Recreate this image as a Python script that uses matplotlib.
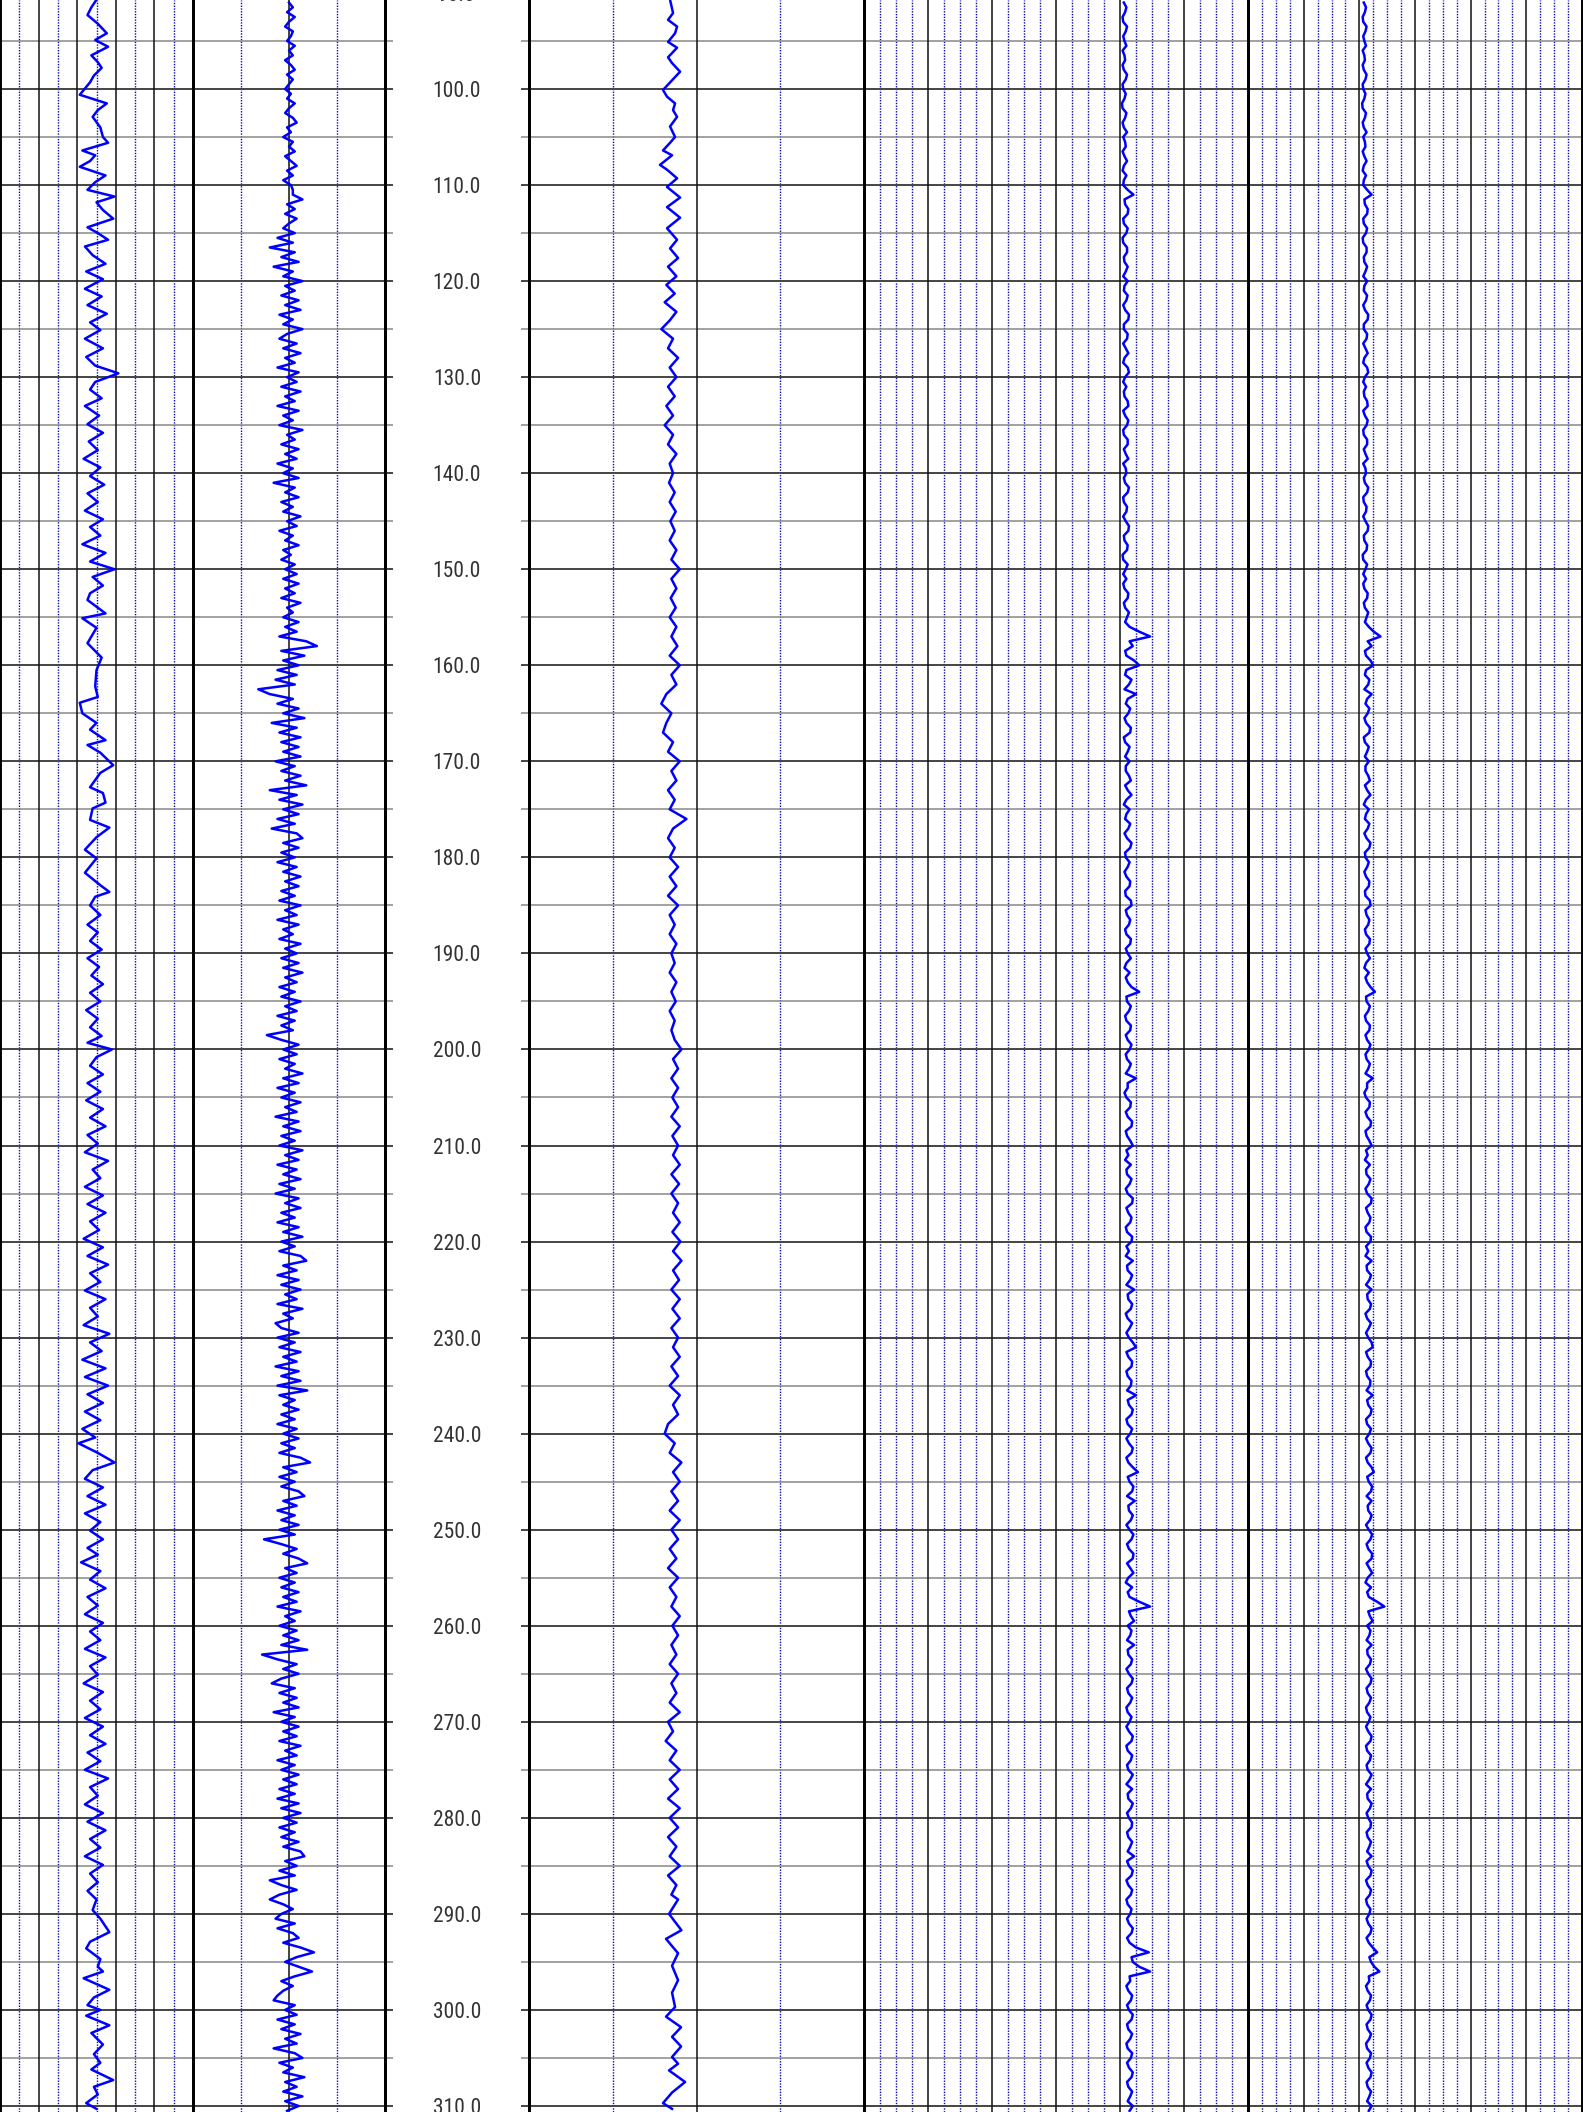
import numpy as np
import matplotlib
matplotlib.use("Agg")
import matplotlib.pyplot as plt
import matplotlib.font_manager as fm

# ---------------- data ----------------
# Track 1 (GR-like, scale 0-150): turning points
T1_DEPTH = [90.7, 91.5, 92.3, 93.2, 94.2, 94.9, 95.6, 96.5, 97.2, 97.8, 98.6, 99.3, 100.6, 101.5, 102.2, 102.9,
            104.0, 105.0, 105.6, 106.4, 106.9, 107.5, 108.1, 109.0, 109.7, 110.5, 111.2, 111.8, 112.6, 113.5,
            114.4, 115.0, 115.7, 116.4, 117.3, 118.2, 119.0, 119.8, 120.8, 121.6, 122.5, 123.4, 124.3, 125.1,
            126.0, 127.0, 127.9, 128.8, 129.6, 130.5, 131.3, 132.2, 133.0, 134.0, 134.9, 135.8, 136.7, 137.6,
            138.5, 139.4, 140.3, 141.2, 142.1, 143.0, 143.9, 144.8, 145.6, 146.5, 147.4, 148.3, 149.2, 150.0,
            150.8, 151.7, 152.5, 153.2, 154.6, 155.1, 156.1, 157.7, 159.2, 160.5, 162.2, 163.3, 163.9, 165.0,
            166.0, 166.7, 167.8, 168.3, 169.1, 170.4, 171.2, 172.7, 173.3, 174.3, 174.9, 176.1, 176.9, 177.9,
            179.2, 180.1, 181.6, 182.9, 183.6, 184.1, 185.0, 186.0, 187.0, 187.8, 188.7, 189.6, 190.5, 191.4,
            192.3, 193.2, 194.1, 195.0, 195.9, 196.8, 197.7, 198.6, 199.3, 200.0, 200.8, 201.7, 202.6, 203.5,
            204.4, 205.3, 206.2, 207.1, 208.0, 208.9, 209.8, 210.7, 211.6, 212.5, 213.4, 214.3, 215.2, 216.1,
            217.0, 217.9, 218.8, 219.7, 220.6, 221.5, 222.4, 223.3, 224.2, 225.1, 226.0, 226.9, 227.8, 228.7,
            229.6, 230.5, 231.4, 232.3, 233.2, 234.1, 235.0, 235.9, 236.8, 237.7, 238.6, 239.5, 240.4, 241.0,
            242.0, 243.0, 243.8, 244.7, 245.6, 246.5, 247.4, 248.3, 249.2, 250.1, 251.0, 251.9, 252.6, 253.4,
            254.3, 255.2, 256.1, 257.0, 257.9, 258.8, 259.7, 260.6, 261.5, 262.4, 263.3, 264.2, 265.1, 266.0,
            266.9, 267.8, 268.7, 269.6, 270.5, 271.4, 272.3, 273.2, 274.1, 275.0, 275.9, 276.8, 277.7, 278.6,
            279.5, 280.4, 281.3, 282.2, 283.1, 284.0, 284.9, 285.8, 286.7, 287.6, 288.5, 289.6, 290.5, 291.9,
            292.9, 293.6, 294.7, 295.5, 296.0, 296.7, 297.9, 298.7, 299.5, 300.0, 300.6, 301.6, 302.4, 303.6,
            304.6, 305.5, 306.2, 307.3, 308.0, 308.8, 309.7, 310.3]
T1_VALUE = [75, 71, 68, 76, 83, 74, 84, 71, 76, 79, 73, 70, 62, 83, 76, 72,
            78, 80, 84, 64, 74, 70, 62, 82, 74, 68, 89, 75, 80, 88,
            68, 76, 84, 66, 72, 82, 67, 80, 66, 79, 68, 83, 70, 78,
            66, 80, 67, 74, 92, 74, 70, 79, 66, 77, 68, 80, 69, 76,
            65, 78, 70, 81, 68, 76, 66, 80, 70, 78, 64, 82, 70, 89,
            72, 80, 70, 68, 82, 64, 75, 68, 79, 75, 74, 76, 62, 64,
            75, 70, 82, 68, 78, 88, 78, 70, 80, 82, 72, 70, 85, 75,
            66, 75, 66, 78, 85, 74, 70, 78, 68, 76, 70, 79, 68, 77,
            71, 80, 70, 78, 67, 76, 70, 79, 68, 87, 75, 70, 80, 68,
            78, 67, 80, 70, 82, 68, 76, 66, 84, 72, 78, 66, 80, 68,
            82, 70, 77, 65, 80, 68, 84, 70, 78, 66, 82, 70, 76, 65,
            85, 70, 79, 64, 82, 66, 84, 68, 80, 66, 78, 64, 74, 61,
            76, 89, 72, 66, 80, 68, 82, 66, 78, 70, 80, 68, 76, 63,
            78, 70, 82, 68, 76, 66, 80, 70, 78, 66, 82, 70, 76, 65,
            80, 70, 78, 66, 80, 70, 82, 68, 78, 66, 84, 70, 76, 66,
            80, 68, 82, 70, 78, 66, 80, 70, 76, 68, 75, 72, 78, 85,
            70, 67, 78, 76, 80, 65, 85, 73, 68, 78, 67, 85, 71, 80,
            73, 78, 71, 88, 73, 76, 67, 75]

# Track 2 (scale -50..50), sampled every 0.5 m from 91.0 m
T2_START, T2_STEP = 91.0, 0.5
T2_VALUE = [
    0, 2, -1, 3, 0, -2, 2, 1, -1, 3, 0, 2, -2, 1, 3, -1, 2, 0, -2, 1,
    -1, 3, 0, -2, 2, 4, -1, 1, -3, 2, 0, 3, -2, 1, 4, -1, 2, -3, 1, 2,
    2, 7, -1, 3, -2, 4, 0, -3, 3, -6, 2, -10, 3, -4, 5, -8, 2, -3, 7, -2,
    3, -4, 5, -2, 6, -5, 2, -3, 7, -1, -5, 4, -3, 6, -2, 3, -6, 5, -1, 4,
    -4, 6, -2, 3, -6, 5, -3, 2, -5, 7, -1, 3, -4, 5, -2, 4, -6, 2, -3, 5,
    -8, 3, -2, 5, -4, 2, -3, 6, -1, 4, -5, 2, -2, 5, -3, 1, -4, 3, -2, 4,
    -3, 5, -2, 3, -4, 6, -1, 2, -3, 5, -2, 4, -5, 9, 14.5, -4, 8, -3, 5, -6,
    4, -7, 3, -16, -10, 2, -6, 5, -3, 8, -9, 4, -5, 6, -4, 5, -3, 6, -7, 3,
    -4, 6, -2, 9, -10, 4, -5, 7, -3, 5, -6, 3, -9, 4, 7, -3, 5, -4, 3, -6,
    4, -3, 6, -2, 5, -4, 3, -5, 6, -2, 4, -6, 5, -3, 2, -5, 6, -2, 4, -4,
    5, -3, 7, -2, 4, -5, 3, -4, 6, -2, 4, -6, 3, -4, 2, -11.5, -4, 5, -3, 4,
    -5, 3, -2, 7, -3, 5, -6, 3, -4, 6, -2, 4, -7, 5, -3, 6, -4, 3, -5, 7,
    -2, 5, -6, 4, -3, 6, -5, 3, -7, 5, -2, 6, -4, 3, -6, 5, -3, 7, -4, 3,
    -5, 6, 9, -3, 4, -6, 5, -4, 6, -2, 4, -6, 7, -3, 2, -7, -4, 5, -6, 3,
    -5, 6, -3, 4, -7, 5, -4, 6, -6, 9.5, -5, 3, -3, 5, -4, 3, -6, 4, -3, 5,
    -4, 3, -5, 6, 11, -3, 4, -5, 3, -4, 5, 8, -3, 4, -6, 3, -4, 5, -5, 3,
    -13, -4, 4, -3, 5, 9.5, -2, 4, -5, 3, -4, 5, -3, 4, -6, 6, -2, 3, -5, 4,
    -3, 5, -4, 9.5, -14, -6, 4, -3, 5, -4, -9, 3, -5, 4, -3, 5, -8, 3, -4, 5,
    -3, 4, -5, 6, -2, 4, -6, 3, -4, 5, -3, 4, -5, 3, -6, 5, -4, 6, -3, 4,
    -5, 3, -4, 5, -3, 6, 8, -2, 4, -5, 3, -10, -4, 4, -5, -10, -3, 2, -4, -7,
    3, -6, 2, 5, -3, 6, 13, 4, -2, 5, 12, 3, -4, 2, -3, -6, -8, 3, -2, 4,
    -6, 3, -4, 6, -2, 4, -8, 3, 7, -5, 2, -3, 8, -2, 4, -3, 7, -2, 5, -1]

# Track 3 (scale 0-100): turning points
T3_DEPTH = [90.7, 92.1, 92.8, 93.5, 94.2, 95.1, 95.7, 96.7, 97.3, 98.2, 99.1, 100.1, 100.8, 101.5, 102.2, 102.9,
            103.9, 105.0, 105.6, 106.4, 106.9, 107.9, 108.4, 109.3, 110.2, 111.3, 112.3, 113.4, 114.5, 115.7,
            116.6, 117.6, 118.5, 119.5, 120.4, 121.3, 122.2, 123.2, 124.1, 125.0, 126.0, 127.0, 128.0, 129.0,
            130.0, 131.0, 132.0, 133.0, 134.0, 135.0, 136.0, 137.0, 138.0, 139.0, 140.0, 141.0, 142.0, 143.0,
            144.0, 145.0, 146.0, 147.0, 148.0, 149.0, 150.0, 151.0, 152.0, 153.0, 154.0, 155.0, 156.0, 157.0,
            158.0, 159.0, 160.0, 161.0, 162.0, 163.0, 164.0, 165.0, 166.0, 167.0, 168.0, 169.0, 170.0, 171.0,
            172.0, 173.0, 174.0, 175.0, 176.0, 177.0, 178.0, 179.0, 180.0, 181.0, 182.0, 183.0, 184.0, 185.0,
            186.0, 187.0, 188.0, 189.0, 190.0, 191.0, 192.0, 193.0, 194.0, 195.0, 196.0, 197.0, 198.0, 199.0,
            200.0, 201.0, 202.0, 203.0, 204.0, 205.0, 206.0, 207.0, 208.0, 209.0, 210.0, 211.0, 212.0, 213.0,
            214.0, 215.0, 216.0, 217.0, 218.0, 219.0, 220.0, 221.0, 222.0, 223.0, 224.0, 225.0, 226.0, 227.0,
            228.0, 229.0, 230.0, 231.0, 232.0, 233.0, 234.0, 235.0, 236.0, 237.0, 238.0, 239.0, 240.0, 241.0,
            242.0, 243.0, 244.0, 245.0, 246.0, 247.0, 248.0, 249.0, 250.0, 251.0, 252.0, 253.0, 254.0, 255.0,
            256.0, 257.0, 258.0, 259.0, 260.0, 261.0, 262.0, 263.0, 264.0, 265.0, 266.0, 267.0, 268.0, 269.0,
            270.0, 271.0, 272.0, 273.0, 274.0, 275.0, 276.0, 277.0, 278.0, 279.0, 280.0, 281.0, 282.0, 283.0,
            284.0, 285.0, 286.0, 287.0, 288.0, 288.5, 290.0, 291.7, 292.6, 294.1, 295.4, 296.9, 298.2, 299.7,
            300.7, 301.8, 302.8, 303.8, 304.9, 305.6, 306.3, 307.5, 308.6, 309.7, 310.3]
T3_VALUE = [42.1, 43, 41.5, 44.2, 43.6, 41.5, 44.2, 41.5, 42.7, 45.1, 42.7, 40, 41.2, 43.6, 43, 44.2,
            42.1, 43.6, 42.1, 40, 42.7, 39.1, 41.2, 44.2, 41.2, 45.1, 41.2, 45.1, 41.2, 44.2,
            42.1, 44.5, 41.5, 44, 41, 43.5, 40.5, 44, 42, 39.5, 43, 41.5, 44.5, 42,
            44, 41.5, 43.5, 41, 43, 40.5, 43, 41.5, 44, 42, 43, 41.8, 43.5, 42,
            43.8, 42.2, 43.5, 42, 44, 42.5, 45, 42.5, 44, 42.3, 43.8, 42, 44, 42.5,
            44.3, 42, 45, 42.5, 44, 41, 39.5, 42.5, 41, 40, 43, 41.5, 45, 42.5,
            44, 41.5, 43.5, 42, 47, 43, 41.5, 43.5, 42, 44.5, 42, 44, 41.5, 44.5,
            42, 43.5, 42, 44, 42.5, 43.5, 42, 44, 42.5, 43.8, 42, 43.5, 42.5, 43.5,
            45.5, 43, 44.5, 42.5, 44.5, 42.8, 44.5, 42.5, 45, 42.8, 44.5, 43, 45, 42.5,
            44.8, 42.5, 44.5, 43, 45, 42.8, 45.2, 43, 45.5, 43, 44.8, 42.5, 45, 42.8,
            45, 42.5, 44.5, 43, 45, 42.5, 44.5, 42, 45, 43, 44.5, 41.5, 40.5, 43.5,
            42, 45.5, 43, 45, 42.5, 44.5, 42, 45, 42.5, 44.5, 42, 44, 41.5, 44.5,
            42, 44, 42.5, 45, 42.8, 44.5, 42.5, 44, 42, 44.5, 42.5, 44, 42, 45,
            41.5, 43, 40.8, 44, 42, 45, 42, 44.5, 41.5, 45, 42, 44.5, 41.5, 44,
            42, 45, 41.5, 44, 42.5, 44.5, 41.8, 45.5, 40.9, 44.5, 42.7, 44.5, 42.7, 43.6,
            40.9, 45.4, 42.7, 45.4, 42.7, 44.5, 41.8, 46.6, 42.7, 40, 42.7]

# Tracks 4 and 5 (scale 0-6), sampled every 0.5 m from 91 m
T45_START, T45_STEP = 91.0, 0.5
T4_VALUE = [
    4.06, 4.10, 4.08, 4.04, 4.05, 4.11, 4.09, 4.05, 4.07, 4.10, 4.04, 4.07, 4.08, 4.04, 4.06, 4.11, 4.09, 4.04, 4.05, 4.09,
    4.07, 4.03, 4.04, 4.10, 4.08, 4.04, 4.06, 4.11, 4.05, 4.08, 4.09, 4.04, 4.07, 4.11, 4.06, 4.04, 4.10, 4.06, 4.05, 4.12,
    4.21, 4.07, 4.08, 4.13, 4.12, 4.05, 4.06, 4.12, 4.10, 4.04, 4.05, 4.11, 4.11, 4.06, 4.07, 4.12, 4.09, 4.05, 4.12, 4.07,
    4.06, 4.12, 4.10, 4.05, 4.08, 4.14, 4.13, 4.06, 4.06, 4.12, 4.11, 4.05, 4.09, 4.13, 4.07, 4.05, 4.12, 4.14, 4.08, 4.05,
    4.10, 4.06, 4.07, 4.12, 4.13, 4.05, 4.08, 4.13, 4.11, 4.05, 4.06, 4.12, 4.12, 4.06, 4.09, 4.13, 4.05, 4.09, 4.10, 4.06,
    4.08, 4.14, 4.12, 4.05, 4.06, 4.11, 4.10, 4.05, 4.09, 4.14, 4.13, 4.06, 4.07, 4.12, 4.11, 4.04, 4.05, 4.12, 4.09, 4.05,
    4.10, 4.05, 4.07, 4.13, 4.12, 4.06, 4.08, 4.14, 4.11, 4.08, 4.15, 4.30, 4.47, 4.15, 4.20, 4.08, 4.10, 4.22, 4.30, 4.10,
    4.08, 4.18, 4.14, 4.07, 4.25, 4.12, 4.09, 4.16, 4.13, 4.07, 4.10, 4.17, 4.16, 4.06, 4.08, 4.15, 4.12, 4.08, 4.15, 4.09,
    4.09, 4.14, 4.17, 4.08, 4.12, 4.18, 4.10, 4.06, 4.15, 4.10, 4.08, 4.16, 4.13, 4.07, 4.11, 4.18, 4.16, 4.08, 4.09, 4.15,
    4.12, 4.07, 4.10, 4.16, 4.15, 4.08, 4.09, 4.17, 4.18, 4.09, 4.11, 4.16, 4.14, 4.08, 4.10, 4.17, 4.16, 4.09, 4.12, 4.17,
    4.10, 4.07, 4.15, 4.09, 4.12, 4.18, 4.30, 4.10, 4.11, 4.17, 4.14, 4.08, 4.10, 4.17, 4.16, 4.09, 4.12, 4.18, 4.15, 4.09,
    4.11, 4.17, 4.14, 4.09, 4.25, 4.12, 4.12, 4.07, 4.10, 4.17, 4.16, 4.09, 4.12, 4.19, 4.18, 4.09, 4.11, 4.16, 4.20, 4.10,
    4.13, 4.08, 4.17, 4.10, 4.11, 4.18, 4.15, 4.09, 4.12, 4.20, 4.19, 4.10, 4.13, 4.18, 4.16, 4.09, 4.11, 4.19, 4.18, 4.10,
    4.14, 4.09, 4.20, 4.11, 4.12, 4.19, 4.16, 4.10, 4.22, 4.12, 4.13, 4.19, 4.17, 4.09, 4.12, 4.19, 4.15, 4.10, 4.14, 4.20,
    4.25, 4.10, 4.13, 4.19, 4.18, 4.10, 4.12, 4.18, 4.17, 4.11, 4.25, 4.12, 4.14, 4.20, 4.18, 4.10, 4.12, 4.19, 4.16, 4.10,
    4.14, 4.20, 4.18, 4.10, 4.13, 4.20, 4.28, 4.12, 4.15, 4.21, 4.19, 4.11, 4.23, 4.13, 4.14, 4.20, 4.17, 4.10, 4.15, 4.21,
    4.18, 4.11, 4.14, 4.21, 4.20, 4.11, 4.16, 4.21, 4.13, 4.09, 4.19, 4.12, 4.15, 4.30, 4.47, 4.14, 4.17, 4.22, 4.12, 4.18,
    4.16, 4.11, 4.22, 4.12, 4.13, 4.19, 4.17, 4.10, 4.14, 4.20, 4.18, 4.11, 4.13, 4.19, 4.16, 4.10, 4.12, 4.18, 4.15, 4.10,
    4.14, 4.20, 4.18, 4.10, 4.12, 4.19, 4.17, 4.11, 4.13, 4.20, 4.16, 4.10, 4.19, 4.12, 4.13, 4.20, 4.17, 4.11, 4.14, 4.19,
    4.18, 4.11, 4.13, 4.19, 4.16, 4.12, 4.22, 4.11, 4.14, 4.20, 4.18, 4.10, 4.13, 4.19, 4.17, 4.10, 4.12, 4.18, 4.16, 4.11,
    4.14, 4.20, 4.18, 4.11, 4.15, 4.25, 4.45, 4.18, 4.20, 4.30, 4.47, 4.15, 4.16, 4.10, 4.13, 4.19, 4.17, 4.11, 4.14, 4.20,
    4.18, 4.11, 4.13, 4.19, 4.16, 4.10, 4.12, 4.19, 4.17, 4.11, 4.14, 4.20, 4.18, 4.11, 4.13, 4.19, 4.16, 4.12, 4.20, 4.15]
T5_VALUE = [
    2.08, 2.12, 2.10, 2.06, 2.07, 2.13, 2.11, 2.07, 2.09, 2.12, 2.06, 2.09, 2.10, 2.06, 2.08, 2.13, 2.11, 2.06, 2.07, 2.11,
    2.09, 2.05, 2.06, 2.12, 2.10, 2.06, 2.08, 2.13, 2.07, 2.10, 2.11, 2.06, 2.09, 2.13, 2.08, 2.06, 2.12, 2.08, 2.07, 2.14,
    2.22, 2.09, 2.10, 2.15, 2.14, 2.07, 2.08, 2.14, 2.12, 2.06, 2.07, 2.13, 2.13, 2.08, 2.09, 2.14, 2.11, 2.07, 2.14, 2.09,
    2.08, 2.14, 2.12, 2.07, 2.10, 2.16, 2.15, 2.08, 2.08, 2.14, 2.13, 2.07, 2.11, 2.15, 2.09, 2.07, 2.14, 2.16, 2.10, 2.07,
    2.12, 2.08, 2.09, 2.14, 2.15, 2.07, 2.10, 2.15, 2.13, 2.07, 2.08, 2.14, 2.14, 2.08, 2.11, 2.15, 2.07, 2.11, 2.12, 2.08,
    2.10, 2.16, 2.14, 2.07, 2.08, 2.13, 2.12, 2.07, 2.11, 2.16, 2.15, 2.08, 2.09, 2.14, 2.13, 2.06, 2.07, 2.14, 2.11, 2.07,
    2.12, 2.07, 2.09, 2.15, 2.14, 2.08, 2.10, 2.16, 2.13, 2.10, 2.17, 2.26, 2.38, 2.15, 2.22, 2.10, 2.12, 2.20, 2.25, 2.12,
    2.10, 2.18, 2.16, 2.09, 2.22, 2.14, 2.11, 2.18, 2.15, 2.09, 2.12, 2.19, 2.18, 2.08, 2.10, 2.17, 2.14, 2.10, 2.17, 2.11,
    2.11, 2.16, 2.19, 2.10, 2.14, 2.20, 2.12, 2.08, 2.17, 2.12, 2.10, 2.18, 2.15, 2.09, 2.13, 2.20, 2.18, 2.10, 2.11, 2.17,
    2.14, 2.09, 2.12, 2.18, 2.17, 2.10, 2.11, 2.19, 2.20, 2.11, 2.13, 2.18, 2.16, 2.10, 2.12, 2.19, 2.18, 2.11, 2.14, 2.19,
    2.12, 2.09, 2.17, 2.11, 2.14, 2.20, 2.28, 2.12, 2.13, 2.19, 2.16, 2.10, 2.12, 2.19, 2.18, 2.11, 2.14, 2.20, 2.17, 2.11,
    2.13, 2.19, 2.16, 2.11, 2.24, 2.14, 2.14, 2.09, 2.12, 2.19, 2.18, 2.11, 2.14, 2.21, 2.20, 2.11, 2.13, 2.18, 2.22, 2.12,
    2.15, 2.10, 2.19, 2.12, 2.13, 2.20, 2.17, 2.11, 2.14, 2.22, 2.21, 2.12, 2.15, 2.20, 2.18, 2.11, 2.13, 2.21, 2.20, 2.12,
    2.16, 2.11, 2.22, 2.13, 2.14, 2.21, 2.18, 2.12, 2.22, 2.14, 2.15, 2.21, 2.19, 2.11, 2.14, 2.21, 2.17, 2.12, 2.16, 2.22,
    2.24, 2.12, 2.15, 2.21, 2.20, 2.12, 2.14, 2.20, 2.19, 2.13, 2.24, 2.14, 2.16, 2.22, 2.20, 2.12, 2.14, 2.21, 2.18, 2.12,
    2.16, 2.22, 2.20, 2.12, 2.15, 2.22, 2.26, 2.14, 2.17, 2.23, 2.21, 2.13, 2.22, 2.15, 2.16, 2.22, 2.19, 2.12, 2.17, 2.23,
    2.20, 2.13, 2.16, 2.23, 2.22, 2.13, 2.18, 2.23, 2.15, 2.11, 2.21, 2.14, 2.17, 2.32, 2.45, 2.16, 2.19, 2.24, 2.14, 2.20,
    2.18, 2.13, 2.22, 2.14, 2.15, 2.21, 2.19, 2.12, 2.16, 2.22, 2.20, 2.13, 2.15, 2.21, 2.18, 2.12, 2.14, 2.20, 2.17, 2.12,
    2.16, 2.22, 2.20, 2.12, 2.14, 2.21, 2.19, 2.13, 2.15, 2.22, 2.18, 2.12, 2.21, 2.14, 2.15, 2.22, 2.19, 2.13, 2.16, 2.21,
    2.20, 2.13, 2.15, 2.21, 2.18, 2.14, 2.22, 2.13, 2.16, 2.22, 2.20, 2.12, 2.15, 2.21, 2.19, 2.12, 2.14, 2.20, 2.18, 2.13,
    2.16, 2.22, 2.20, 2.13, 2.17, 2.24, 2.32, 2.18, 2.21, 2.27, 2.36, 2.17, 2.18, 2.12, 2.15, 2.21, 2.19, 2.13, 2.16, 2.22,
    2.20, 2.13, 2.15, 2.21, 2.18, 2.12, 2.14, 2.21, 2.19, 2.13, 2.16, 2.22, 2.20, 2.13, 2.15, 2.21, 2.18, 2.14, 2.22, 2.17]

DEPTH_TOP, DEPTH_BOTTOM = 90.734, 310.625

# ---------------- layout / style ----------------
W, H = 1583, 2112
fig = plt.figure(figsize=(W / 100, H / 100), dpi=100)
fig.patch.set_facecolor("white")

TRACKS = {
    "t1": (0, 193), "t2": (193, 385), "depth": (385, 529),
    "t3": (529, 864), "t4": (864, 1248), "t5": (1248, 1582),
}
CURVE_COLOR = "#0000ff"
CURVE_LW = 1.8
MINOR_V = dict(color="#0a0ab4", lw=1.0, ls=(0, (1.0, 1.0)), zorder=1)
MAJOR_V = dict(color="#111111", lw=1.1, zorder=1.6)
H_MAJOR = dict(color="#444444", lw=1.4, zorder=1.5)
H_MINOR = dict(color="#888888", lw=1.1, zorder=1.5)

grid_depths = np.arange(90, 316, 5)


def make_axes(key, xlim):
    x0, x1 = TRACKS[key]
    ax = fig.add_axes([x0 / W, 0, (x1 - x0) / W, 1])
    ax.set_xlim(*xlim)
    ax.set_ylim(DEPTH_BOTTOM, DEPTH_TOP)
    ax.set_xticks([])
    ax.set_yticks([])
    for s in ("top", "bottom"):
        ax.spines[s].set_visible(False)
    for s in ("left", "right"):
        ax.spines[s].set_linewidth(2.1)
        ax.spines[s].set_color("black")
        ax.spines[s].set_zorder(5)
    ax.set_facecolor("none")
    return ax


def grid_track(ax, majors, minors):
    for x in minors:
        ax.axvline(x, **MINOR_V)
    for x in majors:
        ax.axvline(x, **MAJOR_V)
    for d in grid_depths:
        ax.axhline(d, **(H_MAJOR if d % 10 == 0 else H_MINOR))


# Track 1
ax1 = make_axes("t1", (0, 150))
grid_track(ax1, [30, 60, 90, 120], [15, 45, 75, 105, 135])
ax1.plot(T1_VALUE, T1_DEPTH, color=CURVE_COLOR, lw=CURVE_LW, zorder=3, solid_joinstyle="round")

# Track 2
ax2 = make_axes("t2", (-50, 50))
grid_track(ax2, [0], [-25, 25])
t2_depth = T2_START + T2_STEP * np.arange(len(T2_VALUE))
ax2.plot(T2_VALUE, t2_depth, color=CURVE_COLOR, lw=CURVE_LW, zorder=3)

# Depth track
axd = make_axes("depth", (0, 1))
tick_len = 8 / (TRACKS["depth"][1] - TRACKS["depth"][0])
for d in grid_depths:
    st = H_MAJOR if d % 10 == 0 else H_MINOR
    axd.hlines(d, 0, tick_len, colors=st["color"], lw=st["lw"])
    axd.hlines(d, 1 - tick_len, 1, colors=st["color"], lw=st["lw"])

# choose a narrow font for depth labels if available
names = {f.name for f in fm.fontManager.ttflist}
label_kw = dict(fontsize=15.5, color="#333333")
for cand in ["Liberation Sans Narrow", "Roboto Condensed", "Open Sans Condensed"]:
    if cand in names:
        label_kw["family"] = cand
        break
else:
    label_kw["family"] = "DejaVu Sans"
    label_kw["fontstretch"] = "condensed"
    label_kw["fontsize"] = 14

for d in np.arange(90, 311, 10):
    axd.text(0.5, d, f"{d:.1f}", ha="center", va="center_baseline", clip_on=False, **label_kw)

# Track 3
ax3 = make_axes("t3", (0, 100))
grid_track(ax3, [50], [25, 75])
ax3.plot(T3_VALUE, T3_DEPTH, color=CURVE_COLOR, lw=CURVE_LW, zorder=3, solid_joinstyle="round")

# Tracks 4 and 5
t45_depth = T45_START + T45_STEP * np.arange(len(T4_VALUE))
minors45 = [i + q for i in range(6) for q in (0.25, 0.5, 0.75)]
ax4 = make_axes("t4", (0, 6))
grid_track(ax4, [1, 2, 3, 4, 5], minors45)
ax4.plot(T4_VALUE, t45_depth, color=CURVE_COLOR, lw=CURVE_LW, zorder=3)

ax5 = make_axes("t5", (0, 6))
grid_track(ax5, [1, 2, 3, 4, 5], minors45)
ax5.plot(T5_VALUE, t45_depth, color=CURVE_COLOR, lw=CURVE_LW, zorder=3)

fig.savefig("out.png", dpi=100, facecolor="white")
